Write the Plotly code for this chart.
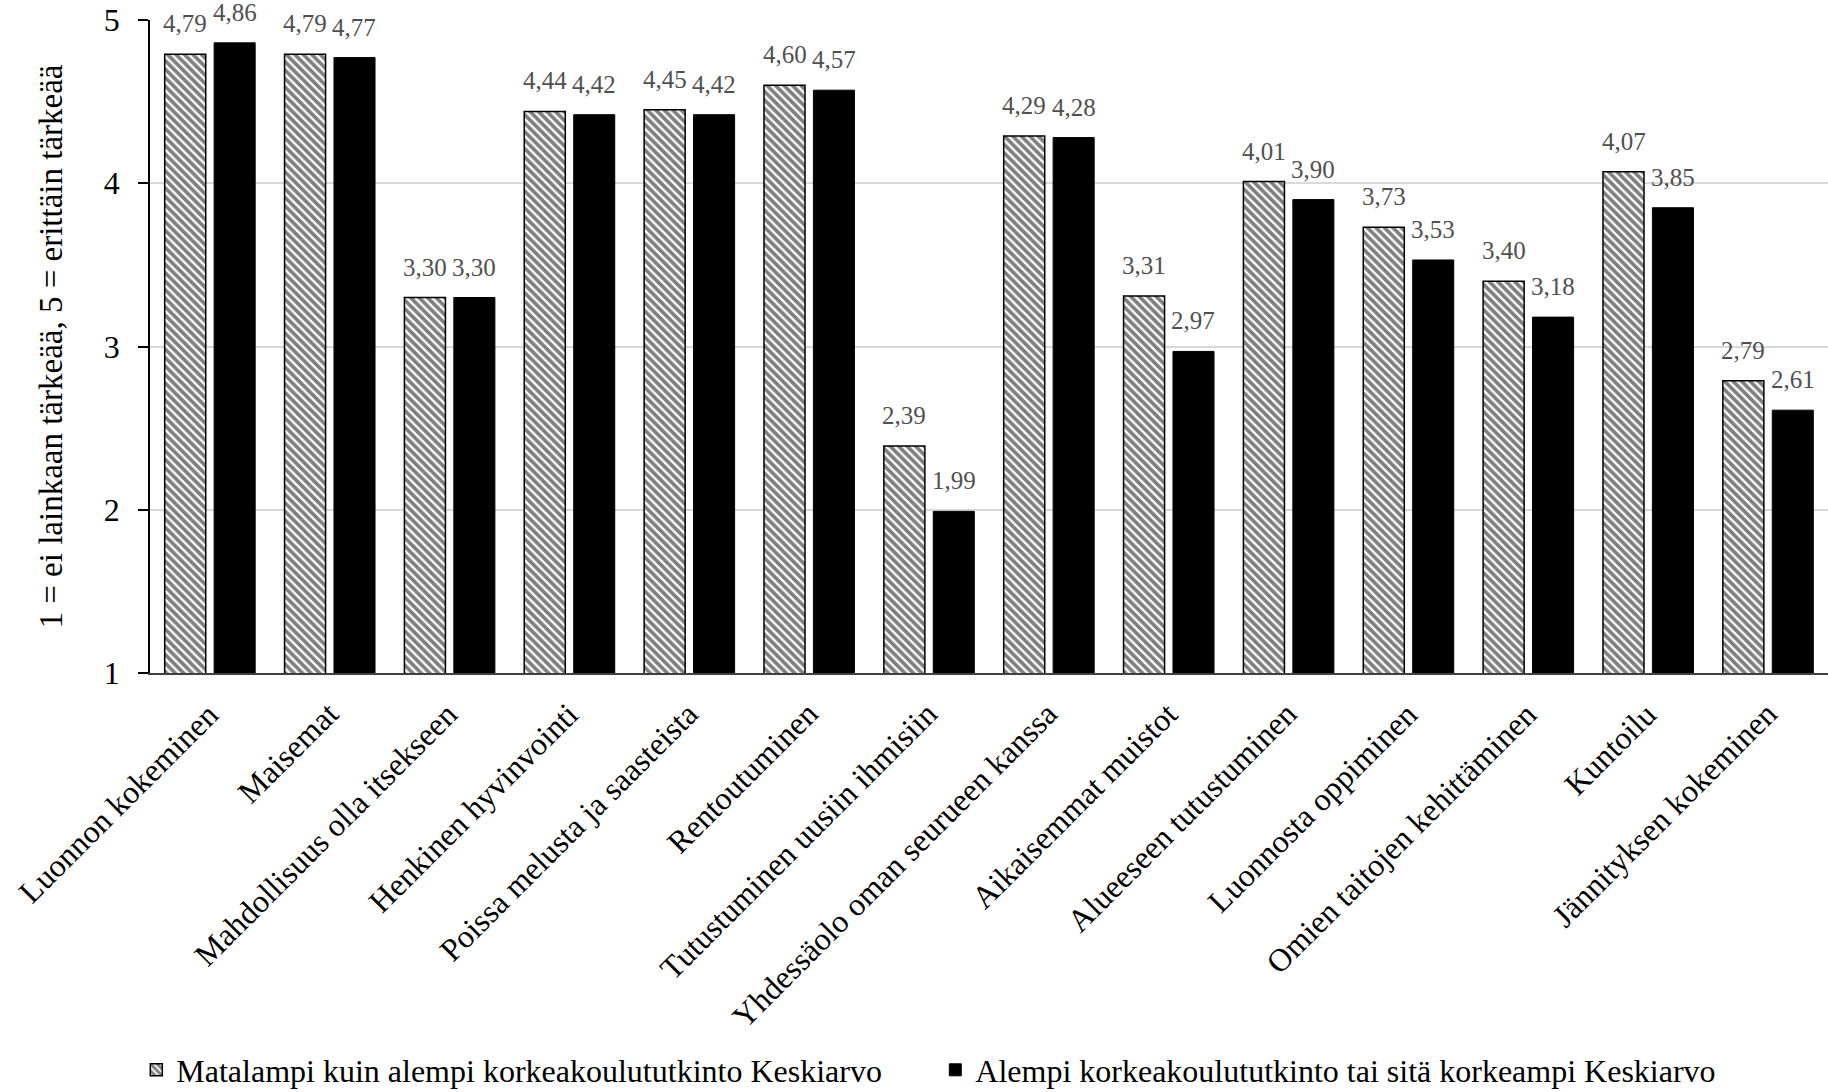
import plotly.graph_objects as go

# Motives for the visit, mean importance by education level (1-5 scale)
categories = [
    "Luonnon kokeminen",
    "Maisemat",
    "Mahdollisuus olla itsekseen",
    "Henkinen hyvinvointi",
    "Poissa melusta ja saasteista",
    "Rentoutuminen",
    "Tutustuminen uusiin ihmisiin",
    "Yhdessäolo oman seurueen kanssa",
    "Aikaisemmat muistot",
    "Alueeseen tutustuminen",
    "Luonnosta oppiminen",
    "Omien taitojen kehittäminen",
    "Kuntoilu",
    "Jännityksen kokeminen",
]
lower_edu = [4.79, 4.79, 3.30, 4.44, 4.45, 4.60, 2.39, 4.29, 3.31, 4.01, 3.73, 3.40, 4.07, 2.79]
higher_edu = [4.86, 4.77, 3.30, 4.42, 4.42, 4.57, 1.99, 4.28, 2.97, 3.90, 3.53, 3.18, 3.85, 2.61]
series_names = [
    "Matalampi kuin alempi korkeakoulututkinto Keskiarvo",
    "Alempi korkeakoulututkinto tai sitä korkeampi Keskiarvo",
]
y_ticks = [1, 2, 3, 4, 5]
y_title = "1 = ei lainkaan tärkeää, 5 = erittäin tärkeää"

FONT = "Liberation Serif, Times New Roman, serif"
W, H = 1828, 1092
M_L, M_R, M_T, M_B = 150, 0, 20, 419

fig = go.Figure()
fig.add_trace(go.Bar(
    x=categories, y=lower_edu, name=series_names[0],
    marker=dict(color="white",
                pattern=dict(shape="\\", fgcolor="black", bgcolor="white",
                             size=6, solidity=0.62, fillmode="overlay"),
                line=dict(color="black", width=1.5)),
))
fig.add_trace(go.Bar(
    x=categories, y=higher_edu, name=series_names[1],
    marker=dict(color="black", line=dict(color="black", width=1)),
))

# value labels above each bar
plot_w = W - M_L - M_R
cat_w = plot_w / len(categories)
offset = cat_w * 0.206
for series, dx in ((lower_edu, -offset), (higher_edu, offset)):
    for c, v in zip(categories, series):
        fig.add_annotation(
            x=c, y=v, xref="x", yref="y", text=f"{v:.2f}".replace(".", ","),
            showarrow=False, xshift=dx, yshift=15, yanchor="bottom",
            font=dict(family=FONT, size=25, color="#505050"),
        )

# slanted category labels, their ends meeting the category centre
for c in categories:
    fig.add_annotation(
        x=c, y=0, xref="x", yref="paper", text=c, textangle=-45,
        showarrow=False, xanchor="right", yanchor="top",
        xshift=18, yshift=-20,
        font=dict(family=FONT, size=32, color="black"),
    )

fig.add_annotation(
    x=-(M_L - 50) / plot_w, y=0.5, xref="paper", yref="paper",
    text=y_title, textangle=-90, showarrow=False,
    xanchor="center", yanchor="middle",
    font=dict(family=FONT, size=33, color="black"),
)

fig.update_layout(
    width=W, height=H,
    margin=dict(l=M_L, r=M_R, t=M_T, b=M_B, autoexpand=False),
    paper_bgcolor="white", plot_bgcolor="white",
    barmode="group", bargap=0.175, bargroupgap=0.17,
    font=dict(family=FONT, color="black"),
    showlegend=True,
    legend=dict(orientation="h", x=0.468, xref="paper", xanchor="center",
                y=-0.608, yanchor="middle",
                font=dict(family=FONT, size=32, color="black"),
                itemwidth=30, entrywidth=754, traceorder="normal"),
)
fig.update_yaxes(
    range=[1, 5], tickvals=y_ticks, showgrid=True, gridcolor="#d9d9d9", gridwidth=1.5,
    showline=True, linecolor="black", linewidth=1.5,
    ticks="outside", ticklen=10, tickcolor="black", tickwidth=1.5,
    ticklabelstandoff=12,
    tickfont=dict(family=FONT, size=32, color="black"), zeroline=False,
)
fig.update_xaxes(
    range=[-0.5, len(categories) - 0.5], autorange=False,
    showline=True, linecolor="#404040", linewidth=1.5,
    showticklabels=False, ticks="",
)

fig.write_html("out.html")
